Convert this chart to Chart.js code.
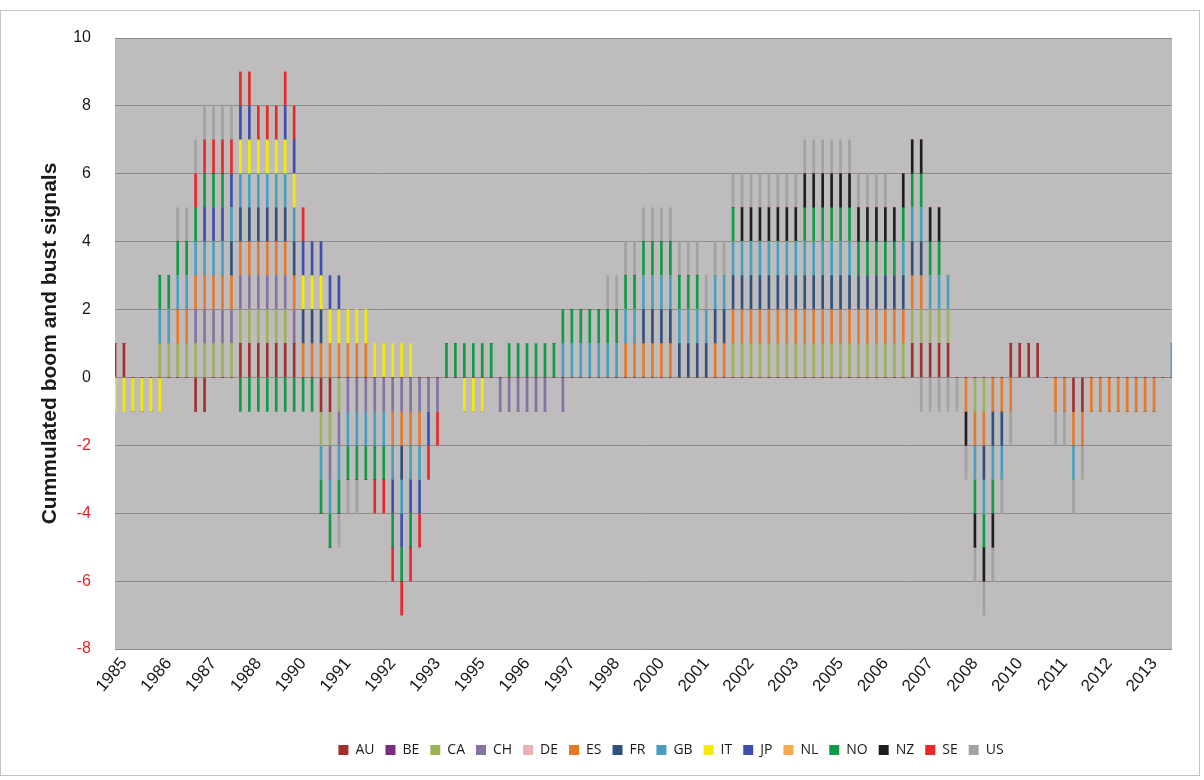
<!DOCTYPE html>
<html>
<head>
<meta charset="utf-8">
<script src="https://cdn.jsdelivr.net/npm/chart.js@4.4.1/dist/chart.umd.min.js"></script>
<style>
html, body { margin: 0; padding: 0; background: #fff; }
#frame { position: absolute; left: 0; top: 10px; width: 1200px; height: 766px; border: 1px solid #c4c4c4; box-sizing: border-box; }
#wrap { position: absolute; left: 0; top: 0; width: 1204px; height: 780px; }
</style>
</head>
<body>
<div id="frame"></div>
<div id="wrap"><canvas id="signalChart" width="1204" height="780"></canvas></div>
<script>
// quarterly categories, 1985Q1 onwards; only every 5th gets its year printed
var firstYear = 1985;
var quarterCount = 119;
var quarters = [];
for (var q = 0; q < quarterCount; q++) {
    quarters.push(String(firstYear + Math.floor(q / 4)));
}

var yTicks = [10, 8, 6, 4, 2, 0, -2, -4, -6, -8];

var countries = ['AU', 'BE', 'CA', 'CH', 'DE', 'ES', 'FR', 'GB', 'IT', 'JP', 'NL', 'NO', 'NZ', 'SE', 'US'];

// +1 boom signal, -1 bust signal, one value per quarter
var AU = [
    1, 1, 0, 0, 0, 0, 0, 0, 0, -1,
    -1, 0, 0, 0, 1, 1, 1, 1, 1, 1,
    1, 0, 0, -1, -1, 0, 0, 0, 0, 0,
    0, 0, 0, 0, 0, 0, 0, 0, 0, 0,
    0, 0, 0, 0, 0, 0, 0, 0, 0, 0,
    0, 0, 0, 0, 0, 0, 0, 0, 0, 0,
    0, 0, 0, 0, 0, 0, 0, 0, 0, 0,
    0, 0, 0, 0, 0, 0, 0, 0, 0, 0,
    0, 0, 0, 0, 0, 0, 0, 0, 0, 1,
    1, 1, 1, 1, 0, 0, 0, 0, 0, 0,
    1, 1, 1, 1, 0, 0, 0, -1, -1, 0,
    0, 0, 0, 0, 0, 0, 0, 0, 0
];
var BE = [
    0, 0, 0, 0, 0, 0, 0, 0, 0, 0,
    0, 0, 0, 0, 0, 0, 0, 0, 0, 0,
    0, 0, 0, 0, 0, 0, 0, 0, 0, 0,
    0, 0, 0, 0, 0, 0, 0, 0, 0, 0,
    0, 0, 0, 0, 0, 0, 0, 0, 0, 0,
    0, 0, 0, 0, 0, 0, 0, 0, 0, 0,
    0, 0, 0, 0, 0, 0, 0, 0, 0, 0,
    0, 0, 0, 0, 0, 0, 0, 0, 0, 0,
    0, 0, 0, 0, 0, 0, 0, 0, 0, 0,
    0, 0, 0, 0, 0, 0, 0, 0, 0, 0,
    0, 0, 0, 0, 0, 0, 0, 0, 0, 0,
    0, 0, 0, 0, 0, 0, 0, 0, 0
];
var CA = [
    0, 0, 0, 0, 0, 1, 1, 1, 1, 1,
    1, 1, 1, 1, 1, 1, 1, 1, 1, 1,
    0, 0, 0, -1, -1, -1, 0, 0, 0, 0,
    0, 0, 0, 0, 0, 0, 0, 0, 0, 0,
    0, 0, 0, 0, 0, 0, 0, 0, 0, 0,
    0, 0, 0, 0, 0, 0, 0, 0, 0, 0,
    0, 0, 0, 0, 0, 0, 0, 0, 0, 1,
    1, 1, 1, 1, 1, 1, 1, 1, 1, 1,
    1, 1, 1, 1, 1, 1, 1, 1, 1, 1,
    1, 1, 1, 1, 0, 0, -1, -1, 0, 0,
    0, 0, 0, 0, 0, 0, 0, 0, 0, 0,
    0, 0, 0, 0, 0, 0, 0, 0, 0
];
var CH = [
    0, 0, 0, 0, 0, 0, 0, 0, 0, 1,
    1, 1, 1, 1, 1, 1, 1, 1, 1, 1,
    1, 0, 0, 0, -1, -1, -1, -1, -1, -1,
    -1, -1, -1, -1, -1, -1, -1, 0, 0, 0,
    0, 0, 0, -1, -1, -1, -1, -1, -1, 0,
    -1, 0, 0, 0, 0, 0, 0, 0, 0, 0,
    0, 0, 0, 0, 0, 0, 0, 0, 0, 0,
    0, 0, 0, 0, 0, 0, 0, 0, 0, 0,
    0, 0, 0, 0, 0, 0, 0, 0, 0, 0,
    0, 0, 0, 0, 0, 0, 0, 0, 0, 0,
    0, 0, 0, 0, 0, 0, 0, 0, 0, 0,
    0, 0, 0, 0, 0, 0, 0, 0, 0
];
var DE = [
    0, 0, 0, 0, 0, 0, 0, 0, 0, 0,
    0, 0, 0, 0, 0, 0, 0, 0, 0, 0,
    0, 0, 0, 0, 0, 0, 0, 0, 0, 0,
    0, 0, 0, 0, 0, 0, 0, 0, 0, 0,
    0, 0, 0, 0, 0, 0, 0, 0, 0, 0,
    0, 0, 0, 0, 0, 0, 0, 0, 0, 0,
    0, 0, 0, 0, 0, 0, 0, 0, 0, 0,
    0, 0, 0, 0, 0, 0, 0, 0, 0, 0,
    0, 0, 0, 0, 0, 0, 0, 0, 0, 0,
    0, 0, 0, 0, 0, 0, 0, 0, 0, 0,
    0, 0, 0, 0, 0, 0, 0, 0, 0, 0,
    0, 0, 0, 0, 0, 0, 0, 0, 0
];
var ES = [
    0, 0, 0, 0, 0, 0, 0, 1, 1, 1,
    1, 1, 1, 1, 1, 1, 1, 1, 1, 1,
    1, 1, 1, 1, 1, 1, 1, 1, 1, 0,
    0, -1, -1, -1, -1, 0, 0, 0, 0, 0,
    0, 0, 0, 0, 0, 0, 0, 0, 0, 0,
    0, 0, 0, 0, 0, 0, 0, 1, 1, 1,
    1, 1, 1, 0, 0, 0, 0, 1, 1, 1,
    1, 1, 1, 1, 1, 1, 1, 1, 1, 1,
    1, 1, 1, 1, 1, 1, 1, 1, 1, 1,
    1, 0, 0, 0, 0, -1, -1, -1, -1, -1,
    -1, 0, 0, 0, 0, -1, -1, -1, -1, -1,
    -1, -1, -1, -1, -1, -1, -1, 0, 0
];
var FR = [
    0, 0, 0, 0, 0, 0, 0, 0, 0, 0,
    0, 0, 0, 1, 1, 1, 1, 1, 1, 1,
    1, 1, 1, 1, 0, 0, 0, 0, 0, 0,
    0, 0, -1, 0, 0, 0, 0, 0, 0, 0,
    0, 0, 0, 0, 0, 0, 0, 0, 0, 0,
    0, 0, 0, 0, 0, 0, 0, 0, 0, 1,
    1, 1, 1, 1, 1, 1, 1, 1, 1, 1,
    1, 1, 1, 1, 1, 1, 1, 1, 1, 1,
    1, 1, 1, 1, 1, 1, 1, 1, 1, 1,
    1, 0, 0, 0, 0, 0, 0, -1, -1, -1,
    0, 0, 0, 0, 0, 0, 0, 0, 0, 0,
    0, 0, 0, 0, 0, 0, 0, 0, 0
];
var GB = [
    0, 0, 0, 0, 0, 1, 1, 1, 1, 1,
    1, 1, 1, 1, 1, 1, 1, 1, 1, 1,
    1, 0, 0, -1, -1, -1, -1, -1, -1, -1,
    -1, -1, -1, -1, -1, 0, 0, 0, 0, 0,
    0, 0, 0, 0, 0, 0, 0, 0, 0, 0,
    1, 1, 1, 1, 1, 1, 1, 1, 1, 1,
    1, 1, 1, 1, 1, 1, 1, 1, 1, 1,
    1, 1, 1, 1, 1, 1, 1, 1, 1, 1,
    1, 1, 1, 0, 0, 0, 0, 0, 1, 1,
    1, 1, 1, 1, 0, 0, -1, -1, -1, -1,
    0, 0, 0, 0, 0, 0, 0, -1, 0, 0,
    0, 0, 0, 0, 0, 0, 0, 0, 1
];
var IT = [
    -1, -1, -1, -1, -1, -1, 0, 0, 0, 0,
    0, 0, 0, 0, 1, 1, 1, 1, 1, 1,
    1, 1, 1, 1, 1, 1, 1, 1, 1, 1,
    1, 1, 1, 1, 0, 0, 0, 0, 0, -1,
    -1, -1, 0, 0, 0, 0, 0, 0, 0, 0,
    0, 0, 0, 0, 0, 0, 0, 0, 0, 0,
    0, 0, 0, 0, 0, 0, 0, 0, 0, 0,
    0, 0, 0, 0, 0, 0, 0, 0, 0, 0,
    0, 0, 0, 0, 0, 0, 0, 0, 0, 0,
    0, 0, 0, 0, 0, 0, 0, 0, 0, 0,
    0, 0, 0, 0, 0, 0, 0, 0, 0, 0,
    0, 0, 0, 0, 0, 0, 0, 0, 0
];
var JP = [
    0, 0, 0, 0, 0, 0, 0, 0, 0, 0,
    1, 1, 1, 1, 1, 1, 0, 0, 0, 1,
    1, 1, 1, 1, 1, 1, 0, 0, 0, 0,
    0, -1, -1, -1, -1, -1, 0, 0, 0, 0,
    0, 0, 0, 0, 0, 0, 0, 0, 0, 0,
    0, 0, 0, 0, 0, 0, 0, 0, 0, 0,
    0, 0, 0, 0, 0, 0, 0, 0, 0, 0,
    0, 0, 0, 0, 0, 0, 0, 0, 0, 0,
    0, 0, 0, 0, 0, 0, 0, 0, 0, 0,
    0, 0, 0, 0, 0, 0, 0, 0, 0, 0,
    0, 0, 0, 0, 0, 0, 0, 0, 0, 0,
    0, 0, 0, 0, 0, 0, 0, 0, 0
];
var NL = [
    0, 0, 0, 0, 0, 0, 0, 0, 0, 0,
    0, 0, 0, 0, 0, 0, 0, 0, 0, 0,
    0, 0, 0, 0, 0, 0, 0, 0, 0, 0,
    0, 0, 0, 0, 0, 0, 0, 0, 0, 0,
    0, 0, 0, 0, 0, 0, 0, 0, 0, 0,
    0, 0, 0, 0, 0, 0, 0, 0, 0, 0,
    0, 0, 0, 0, 0, 0, 0, 0, 0, 0,
    0, 0, 0, 0, 0, 0, 0, 0, 0, 0,
    0, 0, 0, 0, 0, 0, 0, 0, 0, 0,
    0, 0, 0, 0, 0, 0, 0, 0, 0, 0,
    0, 0, 0, 0, 0, 0, 0, 0, 0, 0,
    0, 0, 0, 0, 0, 0, 0, 0, 0
];
var NO = [
    0, 0, 0, 0, 0, 1, 1, 1, 1, 1,
    1, 1, 1, 0, -1, -1, -1, -1, -1, -1,
    -1, -1, -1, -1, -1, -1, -1, -1, -1, -1,
    -1, -1, -1, -1, 0, 0, 0, 1, 1, 1,
    1, 1, 1, 0, 1, 1, 1, 1, 1, 1,
    1, 1, 1, 1, 1, 1, 1, 1, 1, 1,
    1, 1, 1, 1, 1, 1, 0, 0, 0, 1,
    0, 0, 0, 0, 0, 0, 0, 1, 1, 1,
    1, 1, 1, 1, 1, 1, 1, 1, 1, 1,
    1, 1, 1, 0, 0, 0, -1, -1, -1, 0,
    0, 0, 0, 0, 0, 0, 0, 0, 0, 0,
    0, 0, 0, 0, 0, 0, 0, 0, 0
];
var NZ = [
    0, 0, 0, 0, 0, 0, 0, 0, 0, 0,
    0, 0, 0, 0, 0, 0, 0, 0, 0, 0,
    0, 0, 0, 0, 0, 0, 0, 0, 0, 0,
    0, 0, 0, 0, 0, 0, 0, 0, 0, 0,
    0, 0, 0, 0, 0, 0, 0, 0, 0, 0,
    0, 0, 0, 0, 0, 0, 0, 0, 0, 0,
    0, 0, 0, 0, 0, 0, 0, 0, 0, 0,
    1, 1, 1, 1, 1, 1, 1, 1, 1, 1,
    1, 1, 1, 1, 1, 1, 1, 1, 1, 1,
    1, 1, 1, 0, 0, -1, -1, -1, -1, 0,
    0, 0, 0, 0, 0, 0, 0, 0, 0, 0,
    0, 0, 0, 0, 0, 0, 0, 0, 0
];
var SE = [
    0, 0, 0, 0, 0, 0, 0, 0, 0, 1,
    1, 1, 1, 1, 1, 1, 1, 1, 1, 1,
    1, 1, 0, 0, 0, 0, 0, 0, 0, -1,
    -1, -1, -1, -1, -1, -1, -1, 0, 0, 0,
    0, 0, 0, 0, 0, 0, 0, 0, 0, 0,
    0, 0, 0, 0, 0, 0, 0, 0, 0, 0,
    0, 0, 0, 0, 0, 0, 0, 0, 0, 0,
    0, 0, 0, 0, 0, 0, 0, 0, 0, 0,
    0, 0, 0, 0, 0, 0, 0, 0, 0, 0,
    0, 0, 0, 0, 0, 0, 0, 0, 0, 0,
    0, 0, 0, 0, 0, 0, 0, 0, 0, 0,
    0, 0, 0, 0, 0, 0, 0, 0, 0
];
var US = [
    0, 0, 0, 0, 0, 0, 0, 1, 1, 1,
    1, 1, 1, 1, 0, 0, 0, 0, 0, 0,
    0, 0, 0, 0, 0, -1, -1, -1, 0, 0,
    0, 0, 0, 0, 0, 0, 0, 0, 0, 0,
    0, 0, 0, 0, 0, 0, 0, 0, 0, 0,
    0, 0, 0, 0, 0, 1, 1, 1, 1, 1,
    1, 1, 1, 1, 1, 1, 1, 1, 1, 1,
    1, 1, 1, 1, 1, 1, 1, 1, 1, 1,
    1, 1, 1, 1, 1, 1, 1, 0, 0, 0,
    -1, -1, -1, -1, -1, -1, -1, -1, -1, -1,
    -1, 0, 0, 0, 0, -1, -1, -1, -1, 0,
    0, 0, 0, 0, 0, 0, 0, 0, 0
];

var signals = [AU, BE, CA, CH, DE, ES, FR, GB, IT, JP, NL, NO, NZ, SE, US];
var colors = ['#a0302f', '#7a2d7e', '#9bb35a', '#8671a5', '#e7b2b1', '#e6792b', '#32507e', '#47a0bf',
              '#f4ec00', '#3c4fae', '#f6a951', '#0f9b48', '#1e1e1e', '#e8282b', '#a3a1a1'];

var datasets = countries.map(function (name, i) {
    return {
        label: name,
        data: signals[i],
        backgroundColor: colors[i],
        borderWidth: 0,
        barThickness: 2
    };
});

var plotBackground = {
    id: 'plotBackground',
    beforeDraw: function (chart) {
        var a = chart.chartArea;
        var ctx = chart.ctx;
        ctx.save();
        ctx.fillStyle = '#bebcbc';
        ctx.fillRect(a.left, a.top, a.right - a.left, a.bottom - a.top);
        ctx.restore();
    }
};

// the legend in the original sits right of centre
var legendShift = {
    id: 'legendShift',
    afterLayout: function (chart) {
        chart.legend.left += 85;
        chart.legend.right += 85;
    }
};

var ctx = document.getElementById('signalChart').getContext('2d');
var signalChart = new Chart(ctx, {
    type: 'bar',
    data: {
        labels: quarters,
        datasets: datasets
    },
    options: {
        responsive: false,
        animation: false,
        layout: { padding: { top: 38, right: 32, bottom: 13, left: 0 } },
        scales: {
            x: {
                stacked: true,
                offset: false,
                grid: { display: false, drawTicks: false },
                border: { display: false },
                ticks: {
                    autoSkip: false,
                    minRotation: 50,
                    maxRotation: 50,
                    padding: 5,
                    labelOffset: 9,
                    color: '#1a1a1a',
                    font: { family: 'Liberation Sans', size: 17 },
                    callback: function (value, index) {
                        return index % 5 === 0 ? this.getLabelForValue(value) : '';
                    }
                },
                afterFit: function (scale) { scale.height = 83; }
            },
            y: {
                stacked: true,
                min: yTicks[yTicks.length - 1],
                max: yTicks[0],
                afterBuildTicks: function (scale) {
                    scale.ticks = yTicks.map(function (v) { return { value: v }; });
                },
                grid: { color: '#8d8b8b', lineWidth: 1, drawTicks: false },
                border: { display: false },
                ticks: {
                    padding: 24,
                    color: function (c) { return c.tick.value < 0 ? '#e8202a' : '#1a1a1a'; },
                    font: { family: 'Liberation Sans', size: 16 }
                },
                title: {
                    display: true,
                    text: 'Cummulated boom and bust signals',
                    color: '#1a1a1a',
                    font: { family: 'Liberation Sans', size: 21, weight: 'bold' },
                    padding: { top: 38, bottom: 0 }
                },
                afterFit: function (scale) { scale.width = 115; }
            }
        },
        plugins: {
            legend: {
                position: 'bottom',
                labels: {
                    boxWidth: 10,
                    boxHeight: 10,
                    padding: 11,
                    color: '#1a1a1a',
                    font: { family: 'Open Sans', size: 14 }
                }
            },
            tooltip: { enabled: false }
        }
    },
    plugins: [plotBackground, legendShift]
});
</script>
</body>
</html>
